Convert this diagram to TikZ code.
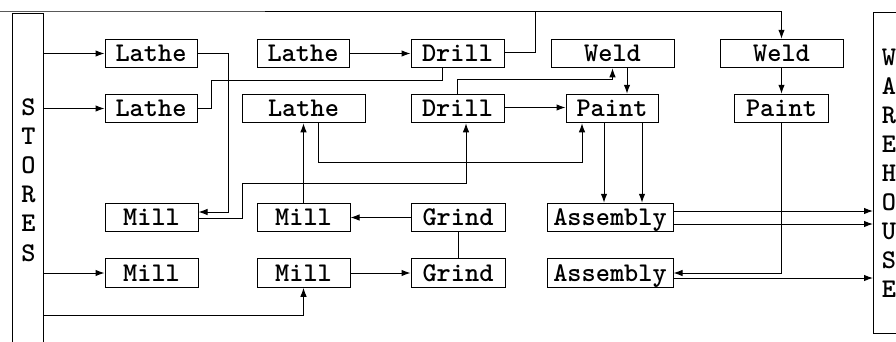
\documentclass[tikz,border=0pt]{standalone}
\usepackage{fontspec}
\usetikzlibrary{arrows.meta,calc}
\begin{document}
\begin{tikzpicture}[x=1pt,y=-1pt,
  txt/.style={font=\ttfamily\bfseries\fontsize{27}{27}\selectfont, text height=18pt, text depth=2pt, inner sep=0pt},
  box/.style={txt, draw, line width=1pt, minimum height=28.5pt},
  frame/.style={draw, line width=1pt, inner sep=0pt},
  arr/.style={line width=1pt, -{Latex[length=9pt,width=6.5pt]}},
  ln/.style={line width=1pt}]
\useasboundingbox (0,0) rectangle (896,341);
\fill[white] (0,0) rectangle (896,341);

% frames
\node[frame, minimum width=31pt, minimum height=360pt, anchor=north west] (ST) at (12,13) {};
\node[frame, minimum width=45pt, minimum height=321pt, anchor=north west] (WH) at (873,12) {};
\foreach \c [count=\i from 0] in {S,T,O,R,E,S}
  \node[txt] (st\i) at (28.5,{107+29.2*\i}) {\c};
\foreach \c [count=\i from 0] in {W,A,R,E,H,O,U,S,E}
  \node[txt] (wh\i) at (889,{57+29*\i}) {\c};

% boxes
\node[box, minimum width=92pt]  (L1) at (151,53.5)   {Lathe};
\node[box, minimum width=92pt]  (L2) at (151,108.5)  {Lathe};
\node[box, minimum width=92pt]  (L3) at (303,53.5)   {Lathe};
\node[box, minimum width=93pt]  (D1) at (457.5,53.5) {Drill};
\node[box, minimum width=123pt] (W1) at (612.5,53.5) {Weld};
\node[box, minimum width=123pt] (W2) at (781.5,53.5) {Weld};
\node[box, minimum width=123pt] (LM) at (303.5,108.5) {Lathe};
\node[box, minimum width=93pt]  (D2) at (457.5,108.5) {Drill};
\node[box, minimum width=92pt]  (P1) at (612,108.5)  {Paint};
\node[box, minimum width=94pt]  (P2) at (781.5,108.5) {Paint};
\node[box, minimum width=93pt]  (M1) at (151.5,217.5) {Mill};
\node[box, minimum width=93pt]  (M3) at (303.5,217.5) {Mill};
\node[box, minimum width=94pt]  (G1) at (458,217.5)  {Grind};
\node[box, minimum width=126pt] (A1) at (610,217.5)  {Assembly};
\node[box, minimum width=93pt]  (M2) at (151.5,273)  {Mill};
\node[box, minimum width=93pt]  (M4) at (303.5,273)  {Mill};
\node[box, minimum width=94pt]  (G2) at (458,273)    {Grind};
\node[box, minimum width=126pt] (A2) at (610,273)    {Assembly};

% helper coordinates
\coordinate (bot) at (0,315);
\coordinate (top) at (0,11);
\coordinate (d1s) at ($(D1.south)+(-15.5,0)$);
\coordinate (a1a) at ($(A1.east)+(0,-6.5)$);
\coordinate (a1b) at ($(A1.east)+(0,6.5)$);
\coordinate (a2b) at ($(A2.east)+(0,5)$);

% connectors
\draw[arr] (ST.east |- L1.west) -- (L1.west);
\draw[arr] (ST.east |- L2.west) -- (L2.west);
\draw[arr] (ST.east |- M2.west) -- (M2.west);
\draw[arr] (ST.east |- bot) -| (M4.south);
\draw[arr] (L1.east) -- ++(31,0) |- ($(M1.east)+(0,-5.5)$);
\draw[ln] (L2.east) -- ++(14,0) |- ($(d1s)+(0,12.5)$) -- (d1s);
\draw[arr] (L3.east) -- (D1.west);
\draw[arr] ($(D1.east)+(0,-1)$) -- ++(31,0) |- (top) -| (W2.north);
\draw[arr] (D2.north) -- ++(0,-14) -| (W1.south);
\draw[arr] ($(W1.south)+(14.5,0)$) -- ($(P1.north)+(15,0)$);
\draw[arr] ($(D2.east)+(0,-1)$) -- ($(P1.west)+(0,-1)$);
\draw[arr] ($(LM.south)+(14.5,0)$) -- ++(0,39.5) -| ($(P1.south)+(-30,0)$);
\draw[arr] ($(M1.east)+(0,0.5)$) -- ++(44,0) -- ++(0,-35) -| ($(D2.south)+(8.5,0)$);
\draw[arr] (M3.north) -- (LM.south);
\draw[arr] (G1.west) -- (M3.east);
\draw[ln] (G1.south) -- (G2.north);
\draw[arr] (M4.east) -- (G2.west);
\draw[arr] ($(P1.south)+(-8,0)$) -- ($(A1.north)+(-6,0)$);
\draw[arr] ($(P1.south)+(30,0)$) -- ($(A1.north)+(32,0)$);
\draw[arr] (W2.south) -- (P2.north);
\draw[arr] (P2.south) |- (A2.east);
\draw[arr] (a1a) -- (WH.west |- a1a);
\draw[arr] (a1b) -- (WH.west |- a1b);
\draw[arr] (a2b) -- (WH.west |- a2b);
\end{tikzpicture}
\end{document}
